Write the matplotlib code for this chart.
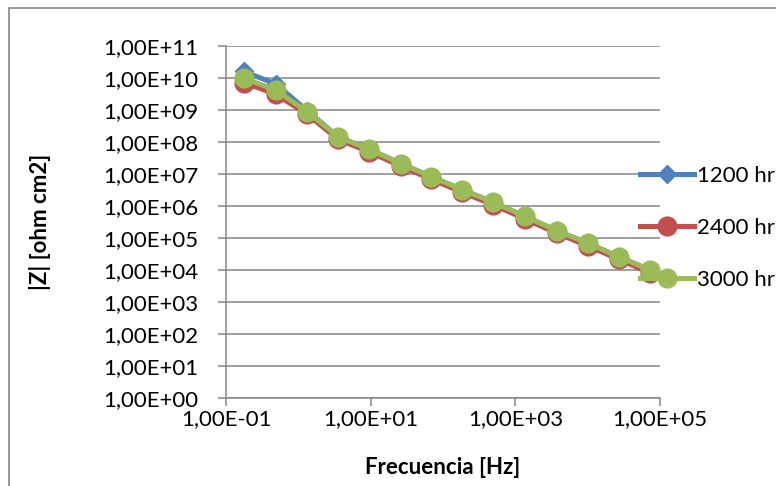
import matplotlib
matplotlib.use("Agg")
import matplotlib.pyplot as plt
from matplotlib.patches import Rectangle
from matplotlib.ticker import FixedLocator, FuncFormatter, NullLocator

plt.rcParams["font.family"] = ["Lato", "DejaVu Sans"]

# frequency [Hz]
freq = [0.177, 0.487, 1.32, 3.56, 9.57, 26.3, 68.4, 186, 499, 1370, 3720, 1.0e4, 2.69e4, 7.23e4]

# |Z| [ohm cm2] per exposure time
z_1200 = [1.6e10, 6.5e9, 9.6e8, 1.45e8, 5.9e7, 2.1e7, 8.3e6, 3.2e6, 1.3e6, 4.7e5, 1.7e5, 6.9e4, 2.6e4, 1.0e4]
z_2400 = [7.2e9, 3.1e9, 7.4e8, 1.2e8, 4.9e7, 1.75e7, 6.9e6, 2.65e6, 1.08e6, 3.9e5, 1.42e5, 5.7e4, 2.15e4, 8.2e3]
z_3000 = [9.8e9, 4.2e9, 8.9e8, 1.45e8, 5.9e7, 2.1e7, 8.3e6, 3.2e6, 1.3e6, 4.7e5, 1.7e5, 6.9e4, 2.6e4, 1.0e4]

labels = ["1200 hr", "2400 hr", "3000 hr"]
x_ticks = [1e-1, 1e1, 1e3, 1e5]
y_ticks = [10.0 ** k for k in range(0, 12)]

W, H = 776, 486
grey = "#868686"
fs = 16

fig = plt.figure(figsize=(W / 100, H / 100), dpi=100)
ax = fig.add_axes([226 / W, 1 - 398 / H, (660 - 226) / W, (398 - 46) / H])

# outer chart frame (runs off the right and bottom edge)
fig.patches.append(Rectangle((9 / W, -0.5), 2, 1.5 - 8 / H, transform=fig.transFigure,
                             fill=False, edgecolor=grey, lw=1.2))

ax.plot(freq, z_1200, color="#4F81BD", lw=3.6, marker="D", ms=9,
        mec="#4F81BD", label=labels[0], zorder=3)
ax.plot(freq, z_2400, color="#C0504D", lw=3.6, marker="o", ms=13.5,
        mec="#C0504D", label=labels[1], zorder=4)
ax.plot(freq, z_3000, color="#9BBB59", lw=3.6, marker="o", ms=13.5,
        mec="#9BBB59", label=labels[2], zorder=5)

ax.set_xscale("log")
ax.set_yscale("log")
ax.set_xlim(1e-1, 1e5)
ax.set_ylim(1, 1e11)

fmt = FuncFormatter(lambda v, p: f"{v:.2E}".replace(".", ","))
ax.xaxis.set_major_locator(FixedLocator(x_ticks))
ax.yaxis.set_major_locator(FixedLocator(y_ticks))
ax.xaxis.set_minor_locator(NullLocator())
ax.yaxis.set_minor_locator(NullLocator())
ax.xaxis.set_major_formatter(fmt)
ax.yaxis.set_major_formatter(fmt)

ax.yaxis.grid(True, color=grey, lw=1.1)
ax.set_axisbelow(True)
for s in ["top", "right"]:
    ax.spines[s].set_visible(False)
for s in ["left", "bottom"]:
    ax.spines[s].set_color(grey)
    ax.spines[s].set_linewidth(1.1)
ax.tick_params(axis="y", length=6, width=1.1, color=grey, pad=14, labelsize=fs)
ax.tick_params(axis="x", length=6, width=1.1, color=grey, pad=2, labelsize=fs)

fig.text(40 / W, 1 - 222 / H, "|Z| [ohm cm2]", rotation=90, ha="center", va="center",
         fontsize=fs, fontweight="bold")
fig.text(443 / W, 1 - 468 / H, "Frecuencia [Hz]", ha="center", va="center",
         fontsize=fs, fontweight="bold")

ax.legend(loc="center left", bbox_to_anchor=(640 / W, 1 - 228 / H),
          bbox_transform=fig.transFigure, frameon=False, fontsize=fs,
          handlelength=2.45, handletextpad=0.12, labelspacing=1.45,
          borderpad=0, borderaxespad=0, numpoints=1)

fig.savefig("out.png", dpi=100)
